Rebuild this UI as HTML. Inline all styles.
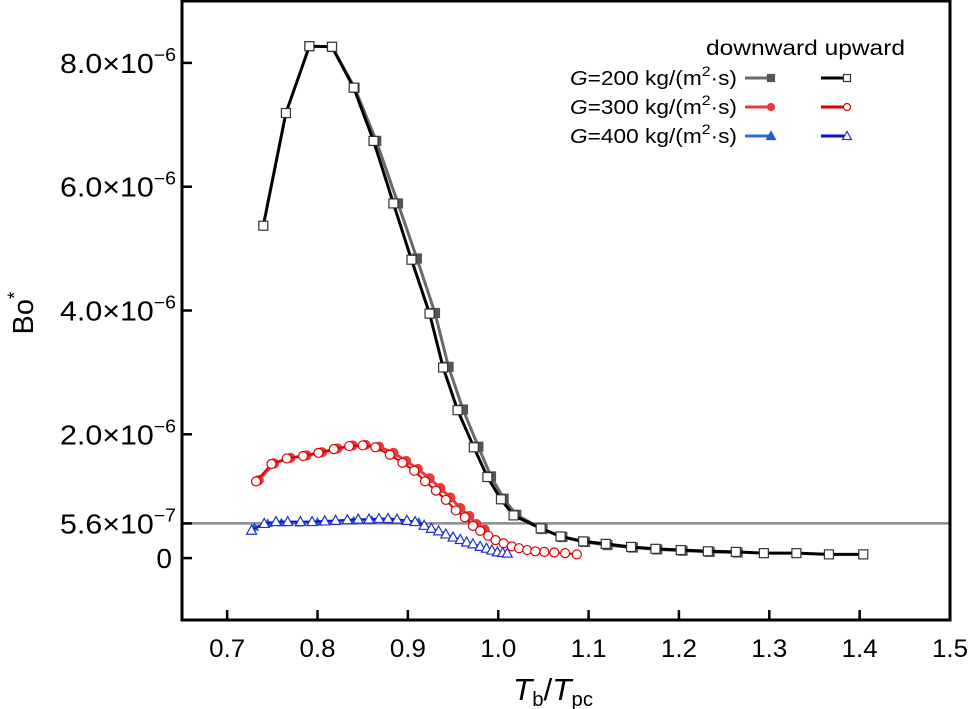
<!DOCTYPE html>
<html><head><meta charset="utf-8"><style>
html,body{margin:0;padding:0;background:#fff;}
svg{display:block;font-family:"Liberation Sans",Arial,sans-serif;}
</style></head><body>
<svg id="chart" width="974" height="709" viewBox="0 0 974 709" xmlns="http://www.w3.org/2000/svg">
<g id="plot"></g>
<g id="axes"></g>
<text x="513" y="700" font-size="31" textLength="80" lengthAdjust="spacingAndGlyphs"><tspan font-style="italic">T</tspan><tspan font-size="20" dy="6">b</tspan><tspan dy="-6">/</tspan><tspan font-style="italic">T</tspan><tspan font-size="20" dy="6">pc</tspan></text>
<text transform="translate(33,313) rotate(-90)" font-size="29" text-anchor="middle">Bo<tspan font-size="19" dy="-12">*</tspan></text>
<g id="legend"></g>
</svg>
<script>
const xTicks=[0.7,0.8,0.9,1.0,1.1,1.2,1.3,1.4,1.5];
const xTickLabels=["0.7","0.8","0.9","1.0","1.1","1.2","1.3","1.4","1.5"];
const yTicks=[0,0.56,2,4,6,8];
const yTickMant=["0","5.6×10","2.0×10","4.0×10","6.0×10","8.0×10"];
const yTickExp=["","−7","−6","−6","−6","−6"];
const refLine=0.56;
// values in units of 1e-6
const up200X=[0.740,0.765,0.791,0.816,0.840,0.862,0.884,0.904,0.924,0.939,0.955,0.973,0.988,1.003,1.017,1.047,1.069,1.094,1.119,1.147,1.174,1.202,1.232,1.263,1.294,1.330,1.366,1.404];
const up200Y=[5.37,7.19,8.27,8.26,7.60,6.74,5.73,4.82,3.95,3.08,2.39,1.79,1.31,0.95,0.69,0.48,0.35,0.27,0.23,0.18,0.15,0.13,0.11,0.10,0.08,0.08,0.06,0.06];
const dn200X=[0.791,0.816,0.841,0.865,0.889,0.910,0.930,0.945,0.961,0.978,0.992,1.006,1.020,1.049,1.071,1.096,1.121,1.149,1.176,1.204,1.234,1.265];
const dn200Y=[8.27,8.26,7.60,6.74,5.73,4.84,3.96,3.09,2.40,1.80,1.32,0.96,0.70,0.47,0.34,0.26,0.21,0.17,0.14,0.12,0.10,0.09];
const up300X=[0.732,0.749,0.766,0.784,0.801,0.818,0.835,0.850,0.864,0.880,0.894,0.907,0.919,0.931,0.942,0.953,0.963,0.972,0.980,0.989,0.997,1.006,1.015,1.023,1.032,1.041,1.051,1.062,1.074,1.087];
const up300Y=[1.24,1.52,1.61,1.65,1.70,1.76,1.81,1.82,1.79,1.67,1.54,1.41,1.24,1.09,0.94,0.77,0.66,0.52,0.44,0.36,0.29,0.24,0.19,0.16,0.13,0.11,0.10,0.09,0.08,0.06];
const dn300X=[0.735,0.752,0.770,0.788,0.805,0.822,0.839,0.853,0.868,0.884,0.898,0.911,0.924,0.936,0.947,0.958,0.968,0.976,0.985];
const dn300Y=[1.26,1.53,1.62,1.66,1.71,1.77,1.82,1.83,1.80,1.70,1.57,1.44,1.29,1.13,0.98,0.81,0.68,0.55,0.46];
const up400X=[0.727,0.741,0.754,0.767,0.781,0.794,0.808,0.820,0.833,0.845,0.857,0.868,0.878,0.888,0.899,0.908,0.918,0.926,0.934,0.942,0.950,0.958,0.965,0.972,0.980,0.987,0.993,0.999,1.005,1.010];
const up400Y=[0.45,0.56,0.59,0.59,0.59,0.59,0.60,0.61,0.62,0.63,0.63,0.64,0.64,0.63,0.61,0.59,0.53,0.48,0.44,0.39,0.34,0.30,0.26,0.23,0.19,0.16,0.13,0.10,0.09,0.08];
const dn400X=[0.730,0.745,0.760,0.780,0.800,0.820,0.840,0.860,0.880,0.900,0.912];
const dn400Y=[0.50,0.56,0.57,0.57,0.58,0.59,0.60,0.61,0.61,0.60,0.58];

const L=182,R=950,T=1,B=620;
const X0=0.65,X1=1.5,Y0=-1.0,Y1=9.0;
const sx=v=>L+(v-X0)/(X1-X0)*(R-L);
const sy=v=>B-(v-Y0)/(Y1-Y0)*(B-T);
const NS="http://www.w3.org/2000/svg";
function mk(tag,attrs,parent){const e=document.createElementNS(NS,tag);for(const k in attrs)e.setAttribute(k,attrs[k]);parent.appendChild(e);return e;}
const plot=document.getElementById('plot'),axes=document.getElementById('axes'),leg=document.getElementById('legend');

const rl=mk('line',{x1:L,x2:R,y1:sy(refLine),y2:sy(refLine),stroke:'#8c8c8c','stroke-width':2.5},plot);



function marker(shape,x,y,fill,stroke,g,s){
  let e;
  if(shape==='sq') e=mk('rect',{x:x-s,y:y-s,width:2*s,height:2*s,fill:fill,stroke:stroke,'stroke-width':1.2},g);
  else if(shape==='ci') e=mk('circle',{cx:x,cy:y,r:s,fill:fill,stroke:stroke,'stroke-width':1.2},g);
  else e=mk('polygon',{points:`${x},${y-s-1} ${x-s-1},${y+s} ${x+s+1},${y+s}`,fill:fill,stroke:stroke,'stroke-width':1.2},g);
  return e;
}
function series(name,xs,ys,color,shape,fill,mstroke,lw,s){
  const g=mk('g',{},plot);
  
  
  const pts=xs.map((x,i)=>sx(x)+','+sy(ys[i])).join(' ');
  mk('polyline',{points:pts,fill:'none',stroke:color,'stroke-width':lw,'stroke-linejoin':'round'},g);
  xs.forEach((x,i)=>{const m=marker(shape,sx(x),sy(ys[i]),fill,mstroke,g,s);
    
    });
}
series('series-g400-downward',dn400X,dn400Y,'#2a6fd6','tr','#1f5fd0','#1f5fd0',2,3);
series('series-g300-downward',dn300X,dn300Y,'#e83a3a','ci','#e83a3a','#e83a3a',3,4.5);
series('series-g200-downward',dn200X,dn200Y,'#6a6a6a','sq','#555','#555',3,4.5);
series('series-g400-upward',up400X,up400Y,'#1010c8','tr','#fff','#2030d0',1.8,4);
series('series-g300-upward',up300X,up300Y,'#e00000','ci','#fff','#e00000',2,4.5);
series('series-g200-upward',up200X,up200Y,'#000','sq','#fff','#333',3,4.5);

const box=mk('rect',{x:L,y:T,width:R-L,height:B-T,fill:'none',stroke:'#000','stroke-width':3},axes);


xTicks.forEach((v,i)=>{
  const t=mk('line',{x1:sx(v),x2:sx(v),y1:B,y2:B-10,stroke:'#000','stroke-width':2.5},axes);
  
  
  const tx=mk('text',{x:sx(v)-18,y:B+37,'font-size':25,textLength:36,lengthAdjust:'spacingAndGlyphs'},axes);
  tx.textContent=xTickLabels[i];
  
  
});
yTicks.forEach((v,i)=>{
  const t=mk('line',{x1:L,x2:L+10,y1:sy(v),y2:sy(v),stroke:'#000','stroke-width':2.5},axes);
  
  
  let tx;
  if(yTickExp[i]){
    tx=mk('text',{x:60,y:sy(v)+10,'font-size':28,textLength:116,lengthAdjust:'spacingAndGlyphs'},axes);
    tx.innerHTML=yTickMant[i]+'<tspan font-size="18" dy="-12">'+yTickExp[i]+'</tspan>';
  } else {
    tx=mk('text',{x:172,y:sy(v)+10,'font-size':28,'text-anchor':'end'},axes);
    tx.textContent=yTickMant[i];
  }
  
  
});

const hd=mk('text',{x:706,y:55,'font-size':21,textLength:199,lengthAdjust:'spacingAndGlyphs'},leg);
hd.textContent='downward upward';


const legLabels=['200','300','400'];
const legDn=[['#6a6a6a','sq','#555','#555'],['#e83a3a','ci','#e83a3a','#e83a3a'],['#2a6fd6','tr','#1f5fd0','#1f5fd0']];
const legUp=[['#000','sq','#fff','#333'],['#e00000','ci','#fff','#e00000'],['#1010c8','tr','#fff','#2030d0']];
legLabels.forEach((lab,i)=>{
  const y=78+i*29;
  const t=mk('text',{x:570,y:y+7,'font-size':20,textLength:167,lengthAdjust:'spacingAndGlyphs'},leg);
  t.innerHTML=`<tspan font-style="italic">G</tspan>=${lab} kg/(m<tspan font-size="14" dy="-9">2</tspan><tspan dy="9">·s)</tspan>`;
  
  
  const d=legDn[i],u=legUp[i];
  mk('line',{x1:745,x2:770,y1:y,y2:y,stroke:d[0],'stroke-width':3},leg);
  marker(d[1],771,y,d[2],d[3],leg,3.5);
  mk('line',{x1:821,x2:845,y1:y,y2:y,stroke:u[0],'stroke-width':3},leg);
  marker(u[1],847,y,u[2],u[3],leg,3.5);
});
</script>
</body></html>
